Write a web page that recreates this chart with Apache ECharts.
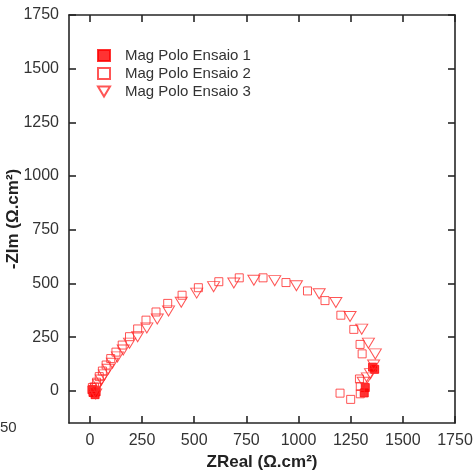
<!DOCTYPE html>
<html>
<head>
<meta charset="utf-8">
<script src="https://cdn.jsdelivr.net/npm/echarts@6/dist/echarts.min.js"></script>
<style>html,body{margin:0;padding:0;background:#fff;}#c{width:474px;height:472px;}</style>
</head>
<body>
<div id="c"></div>
<script>
var seriesNames = ['Mag Polo Ensaio 1', 'Mag Polo Ensaio 2', 'Mag Polo Ensaio 3'];
var xTicks = [0, 250, 500, 750, 1000, 1250, 1500, 1750];
var yTicks = [0, 250, 500, 750, 1000, 1250, 1500, 1750];

var ensaio1 = [[10, 5], [15, -8], [25, -18], [30, -5], [1355, 110], [1365, 100], [1315, -10], [1320, 15]];
var ensaio2 = [[1199, -11], [1250, -40], [1296, -14], [1296, 20], [1292, 55], [1305, 172], [1295, 216],
  [1265, 286], [1203, 352], [1127, 420], [1043, 465], [940, 504], [830, 526], [716, 526], [618, 508],
  [520, 480], [442, 445], [373, 407], [317, 367], [269, 329], [229, 288], [190, 252], [155, 213],
  [125, 180], [100, 150], [78, 120], [60, 92], [45, 66], [32, 40], [22, 18], [15, 5], [12, 15]];
var ensaio3 = [[1310, 40], [1330, 60], [1345, 80], [1360, 120], [1368, 172], [1335, 222], [1303, 287],
  [1247, 346], [1179, 411], [1099, 452], [990, 489], [886, 513], [786, 515], [690, 502], [593, 485],
  [512, 455], [438, 412], [377, 372], [323, 334], [273, 293], [229, 252], [190, 222], [160, 190],
  [132, 158], [108, 128], [88, 100], [70, 74], [55, 50], [42, 30], [30, 12], [22, -5], [28, -15]];

var chart = echarts.init(document.getElementById('c'));
var axisLineStyle = {color: '#262626', width: 1.6};
var fontFam = 'Liberation Sans, Arial, sans-serif';
var labelFont = {fontFamily: fontFam, fontSize: 16, color: '#333', formatter: function (v) { return String(v); }};
var downTri = 'path://M0,0 L12,0 L6,10 Z';
chart.setOption({
  animation: false,
  grid: {left: 69, right: 19, top: 15, bottom: 49, containLabel: false, outerBoundsMode: 'none'},
  legend: {
    orient: 'vertical', left: 92, top: 43, itemWidth: 12, itemHeight: 11, itemGap: 3,
    textStyle: {fontFamily: fontFam, fontSize: 15, color: '#333', padding: [0, 0, 0, 10]},
    data: seriesNames
  },
  graphic: [{type: 'text', left: 0, top: 420, style: {text: '50', font: '15px Liberation Sans, Arial', fill: '#333'}}],
  xAxis: [{
    type: 'value', min: -100, max: 1750, position: 'bottom',
    name: 'ZReal (Ω.cm²)', nameLocation: 'middle', nameGap: 31, nameMoveOverlap: false,
    nameTextStyle: {fontFamily: fontFam, fontSize: 17, fontWeight: 'bold', color: '#222'},
    axisLine: {onZero: false, lineStyle: axisLineStyle},
    axisTick: {inside: true, length: 7, customValues: xTicks, lineStyle: axisLineStyle},
    axisLabel: Object.assign({customValues: xTicks, margin: 10}, labelFont),
    splitLine: {show: false}
  }, {
    type: 'value', min: -100, max: 1750, position: 'top',
    axisLine: {onZero: false, lineStyle: axisLineStyle},
    axisTick: {inside: true, length: 7, customValues: xTicks, lineStyle: axisLineStyle},
    axisLabel: {show: false}, splitLine: {show: false}
  }],
  yAxis: [{
    type: 'value', min: -150, max: 1750, position: 'left',
    name: '-ZIm (Ω.cm²)', nameLocation: 'middle', nameGap: 47, nameMoveOverlap: false,
    nameTextStyle: {fontFamily: fontFam, fontSize: 17, fontWeight: 'bold', color: '#222'},
    axisLine: {onZero: false, lineStyle: axisLineStyle},
    axisTick: {inside: true, length: 7, customValues: yTicks, lineStyle: axisLineStyle},
    axisLabel: Object.assign({customValues: yTicks, margin: 10}, labelFont),
    splitLine: {show: false}
  }, {
    type: 'value', min: -150, max: 1750, position: 'right',
    axisLine: {onZero: false, lineStyle: axisLineStyle},
    axisTick: {inside: true, length: 7, customValues: yTicks, lineStyle: axisLineStyle},
    axisLabel: {show: false}, splitLine: {show: false}
  }],
  series: [{
    name: seriesNames[0], type: 'scatter', data: ensaio1, symbol: 'rect', symbolSize: 8,
    itemStyle: {color: '#ff0000', borderColor: '#ff0000', borderWidth: 1}
  }, {
    name: seriesNames[1], type: 'scatter', data: ensaio2, symbol: 'rect', symbolSize: 8,
    itemStyle: {color: 'rgba(255,255,255,0)', borderColor: '#ff2a2a', borderWidth: 1}
  }, {
    name: seriesNames[2], type: 'scatter', data: ensaio3, symbol: downTri, symbolSize: [12, 10],
    itemStyle: {color: 'rgba(255,255,255,0)', borderColor: '#ff2a2a', borderWidth: 1}
  }]
});
</script>
</body>
</html>
